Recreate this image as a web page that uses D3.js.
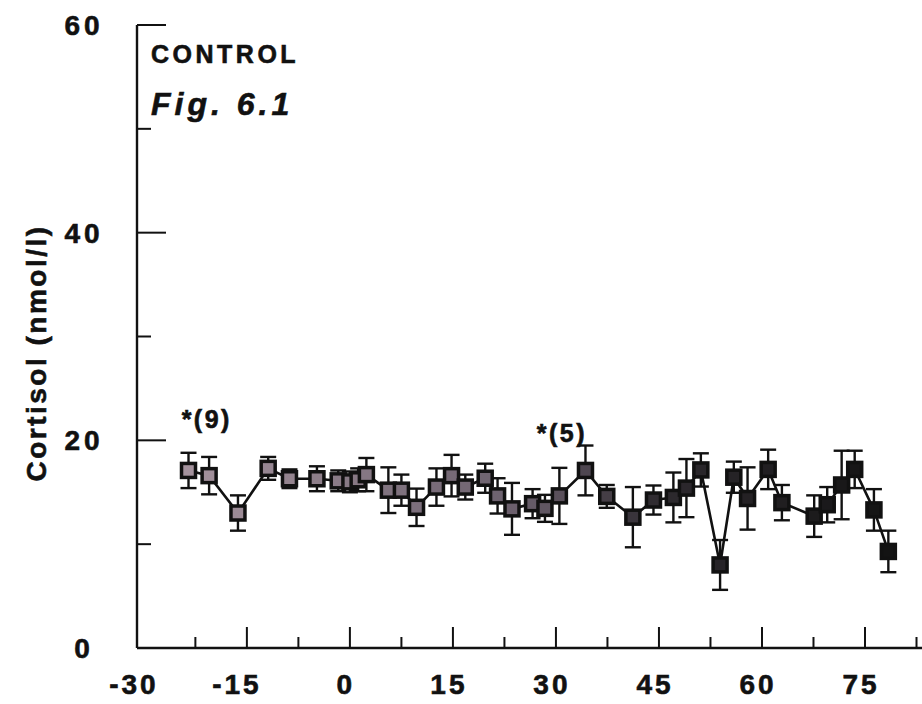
<!DOCTYPE html>
<html>
<head>
<meta charset="utf-8">
<script src="https://cdn.jsdelivr.net/npm/d3@7"></script>
<style>
  html, body { margin: 0; padding: 0; background: #fff; }
  svg { display: block; }
  text { font-family: "Liberation Sans", Arial, sans-serif; font-weight: bold; fill: #111; stroke: #111; stroke-width: 0.6; }
</style>
</head>
<body>
<svg id="chart" width="922" height="704"></svg>
<script>
// ---- data ----
const timeMin = [-23.5, -20.5, -16.3, -11.9, -8.8, -4.8, -1.7, 0.0, 1.2, 2.4,
                 5.6, 7.5, 9.7, 12.6, 14.8, 16.8, 19.7, 21.5, 23.6, 26.6,
                 28.4, 30.5, 34.3, 37.4, 41.2, 44.2, 47.1, 49.0, 51.1, 53.9,
                 55.9, 57.9, 60.9, 62.9, 67.6, 69.5, 71.6, 73.5, 76.3, 78.4];
const cortisol = [17.1, 16.6, 13.0, 17.3, 16.3, 16.3, 16.1, 16.0, 16.2, 16.7,
                  15.2, 15.2, 13.55, 15.5, 16.6, 15.5, 16.35, 14.65, 13.4, 13.9,
                  13.45, 14.65, 17.1, 14.6, 12.6, 14.25, 14.5, 15.4, 17.15, 8.0,
                  16.45, 14.4, 17.2, 14.0, 12.7, 13.8, 15.7, 17.2, 13.3, 9.3];
const sem = [1.7, 1.8, 1.7, 1.1, 0.9, 1.2, 1.0, 1.0, 1.1, 1.6,
             2.2, 1.5, 1.8, 1.8, 2.0, 1.2, 1.4, 1.7, 2.5, 1.4,
             1.3, 2.7, 2.4, 1.1, 2.9, 1.4, 2.4, 2.8, 1.6, 2.4,
             1.5, 3.0, 1.9, 1.7, 2.0, 1.7, 3.3, 1.8, 2.0, 2.0];
const xTickValues = [-30, -22.5, -15, -7.5, 0, 7.5, 15, 22.5, 30, 37.5, 45, 52.5, 60, 67.5, 75, 82.5];
const xTickLabels = [-30, -15, 0, 15, 30, 45, 60, 75];
const yTickValues = [10, 20, 30, 40, 50, 60];
const yTickLabels = [0, 20, 40, 60];
const annotText = ["*(9)", "*(5)"];
const annotX = [-24.5, 27.2];
const annotY = [21.2, 19.85];
const yTitle = "Cortisol (nmol/l)";
const groupLabel = "CONTROL";
const figLabel = "Fig. 6.1";

// ---- layout ----
const svg = d3.select("#chart");
const x = d3.scaleLinear().domain([-31, 83.3]).range([137, 922]);
const y = d3.scaleLinear().domain([0, 60]).range([648, 25]);
const fillScale = d3.scaleLinear().domain([-25, 25, 45, 80]).range(["#a6949f", "#6a5f6c", "#2e2a2f", "#121212"]);

const pts = timeMin.map((t, i) => ({ t, v: cortisol[i], e: sem[i] }));

// axes lines
svg.append("line").attr("x1", x(-31)).attr("x2", 922).attr("y1", y(0)).attr("y2", y(0))
  .attr("stroke", "#111").attr("stroke-width", 2.4);
svg.append("line").attr("x1", x(-31)).attr("x2", x(-31)).attr("y1", y(60)).attr("y2", y(0))
  .attr("stroke", "#111").attr("stroke-width", 2.4);

// x ticks (inward, up)
const isMajorX = v => Number.isInteger(v / 15);
svg.append("g").selectAll("line").data(xTickValues.filter(v => v > -30)).join("line")
  .attr("x1", d => x(d)).attr("x2", d => x(d))
  .attr("y1", y(0)).attr("y2", d => y(0) - (isMajorX(d) ? 21 : 11))
  .attr("stroke", "#111").attr("stroke-width", 2);

svg.append("g").selectAll("text").data(xTickLabels).join("text")
  .attr("x", d => x(d) - 4 + (d < 0 ? -6 : 0))
  .attr("y", 694)
  .attr("text-anchor", "middle")
  .attr("font-size", 28)
  .attr("letter-spacing", 3)
  .text(d => d < 0 ? "-" + Math.abs(d) : d);

// y ticks (inward, right)
svg.append("g").selectAll("line").data(yTickValues).join("line")
  .attr("x1", x(-31)).attr("x2", d => x(-31) + (d % 20 === 0 ? 29 : 14))
  .attr("y1", d => y(d)).attr("y2", d => y(d))
  .attr("stroke", "#111").attr("stroke-width", 2);

svg.append("g").selectAll("text").data(yTickLabels).join("text")
  .attr("x", 84)
  .attr("y", d => y(d) + 10)
  .attr("text-anchor", "middle")
  .attr("font-size", 28)
  .attr("letter-spacing", 4)
  .text(d => d);

// y title
svg.append("text")
  .attr("transform", "translate(46," + 353 + ") rotate(-90)")
  .attr("text-anchor", "middle")
  .attr("font-size", 28)
  .attr("letter-spacing", 2.5)
  .text(yTitle);

// labels
svg.append("text").attr("x", 151).attr("y", 63)
  .attr("font-size", 25).attr("letter-spacing", 3.5).text(groupLabel);
svg.append("text").attr("x", 151).attr("y", 115)
  .attr("font-size", 32).attr("font-style", "italic").attr("letter-spacing", 4).text(figLabel);

// annotations
svg.append("g").selectAll("text").data(annotText).join("text")
  .attr("x", (d, i) => x(annotX[i]))
  .attr("y", (d, i) => y(annotY[i]))
  .attr("font-size", 25).attr("letter-spacing", 2.5)
  .text(d => d);

// connecting line
svg.append("path").datum(pts)
  .attr("d", d3.line().x(d => x(d.t)).y(d => y(d.v)))
  .attr("fill", "none").attr("stroke", "#111").attr("stroke-width", 2.6);

// error bars
const eb = svg.append("g").attr("stroke", "#111").attr("stroke-width", 2.4);
eb.selectAll("line.v").data(pts).join("line").attr("class", "v")
  .attr("x1", d => x(d.t)).attr("x2", d => x(d.t))
  .attr("y1", d => y(d.v + d.e)).attr("y2", d => y(d.v - d.e));
eb.selectAll("line.t").data(pts).join("line").attr("class", "t")
  .attr("x1", d => x(d.t) - 8).attr("x2", d => x(d.t) + 8)
  .attr("y1", d => y(d.v + d.e)).attr("y2", d => y(d.v + d.e));
eb.selectAll("line.b").data(pts).join("line").attr("class", "b")
  .attr("x1", d => x(d.t) - 8).attr("x2", d => x(d.t) + 8)
  .attr("y1", d => y(d.v - d.e)).attr("y2", d => y(d.v - d.e));

// square markers
svg.append("g").selectAll("rect").data(pts).join("rect")
  .attr("x", d => x(d.t) - 7).attr("y", d => y(d.v) - 7)
  .attr("width", 14).attr("height", 14)
  .attr("fill", d => fillScale(d.t))
  .attr("stroke", "#111").attr("stroke-width", 3.5);
</script>
</body>
</html>
